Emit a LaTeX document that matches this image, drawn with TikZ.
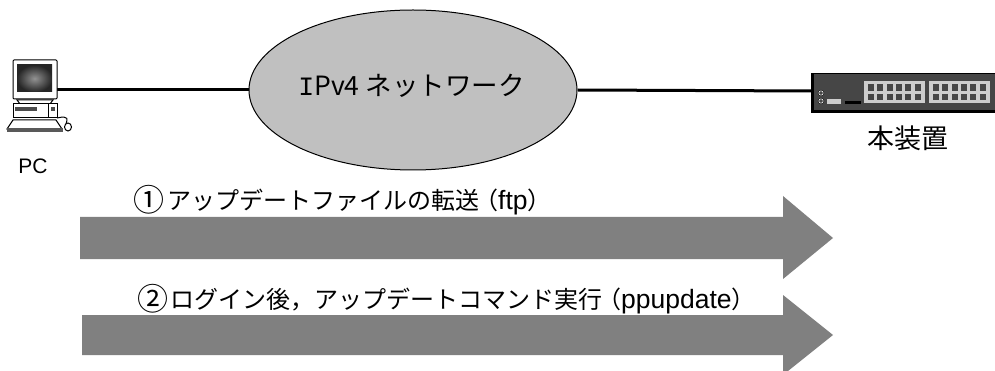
\documentclass[tikz,border=0pt]{standalone}
\usepackage{fontspec}
\setmainfont{Liberation Sans}
\newfontfamily\cjk{Noto Sans CJK JP}
\newfontfamily\mono{Liberation Mono}
\usetikzlibrary{shapes.geometric}
\definecolor{cloudgray}{RGB}{192,192,192}
\definecolor{arrowgray}{RGB}{128,128,128}
\definecolor{devdark}{RGB}{70,70,70}
\definecolor{portlight}{RGB}{205,205,205}
\definecolor{celldark}{RGB}{70,70,70}
\newcommand{\stepmark}[2]{\makebox[#1][l]{\raisebox{-2pt}{\cjk\fontsize{31}{34}\selectfont\kern-1.5pt #2}}}
\newcommand{\openp}{\makebox[19pt][r]{\cjk （}}
\newcommand{\latinpart}[1]{{\rmfamily\fontsize{26.5}{28}\selectfont #1}}
\begin{document}
\begin{tikzpicture}[x=1pt,y=-1pt,
  label text/.style={inner sep=0pt,font=\cjk\fontsize{24}{28}\selectfont,anchor=west},
  link/.style={line width=3pt,black},
  bigarrow/.style={fill=arrowgray,draw=none},
  partline/.style={draw=black,line width=1pt}]
\useasboundingbox (0,0) rectangle (995,371);
% links
\coordinate (pcport) at (57,90);
\coordinate (devport) at (812,91);
\node[ellipse,draw=black,line width=1pt,fill=cloudgray,minimum width=328pt,minimum height=160pt,inner sep=0pt] (net) at (413,90) {};
\draw[link] (pcport) -- (net.west);
\draw[link] (net.east) -- (devport);
\node[inner sep=0pt,font=\cjk\fontsize{26.5}{30}\selectfont] (netlabel) at (411.5,86) {{\mono I}Pv4 ネットワーク};
% PC
\draw[partline,fill=white,rounded corners=1pt] (13,60) rectangle (57,99);
\shade[inner color=gray!85,outer color=black!85] (17,65) rectangle (52,92);
\draw[partline,fill=white] (17,100) -- (53,100) -- (50,104) -- (20,104) -- cycle;
\draw[partline,fill=white] (13,104) rectangle (57,118);
\fill[black!70] (15,107) rectangle (37,111);
\fill[black!70] (51,107) rectangle (55,111);
\draw[partline] (48,104) -- (48,118);
\draw[partline,fill=white] (13,120) -- (56,120) -- (62,129) -- (7,129) -- cycle;
\fill[black!65] (7,128) rectangle (63,132);
\draw[partline] (57,118) .. controls (70,115) and (67,120) .. (66,124);
\draw[partline,fill=white] (68,127) ellipse (3.5pt and 4pt);
\node[inner sep=0pt,font=\fontsize{21}{24}\selectfont] (pclabel) at (33,166) {PC};
% device
\fill[devdark] (812,73) rectangle (995,112);
\fill[black] (812,73) rectangle (995,74.5);
\fill[black] (812,110) rectangle (995,113);
\fill[black] (811,73) rectangle (813.5,113);
\fill[portlight] (864,81) rectangle (925,103.5);
\fill[portlight] (929,81) rectangle (990,103.5);
\foreach \x in {0,1,2,3,4,5}{
  \fill[celldark] (868+\x*9.3,84.5) rectangle +(6,6.5);
  \fill[celldark] (868+\x*9.3,94) rectangle +(6,6.5);
  \fill[celldark] (933+\x*9.3,84.5) rectangle +(6,6.5);
  \fill[celldark] (933+\x*9.3,94) rectangle +(6,6.5);
}
\draw[black,fill=devdark,line width=1pt] (821,93) circle (2.5pt) (821,101) circle (2.5pt);
\draw[white,line width=0.6pt] (821,93) circle (2.2pt) (821,101) circle (2.2pt);
\fill[portlight] (827,99) rectangle (841,104);
\fill[black] (845,101) rectangle (861,104);
\node[inner sep=0pt,font=\cjk\fontsize{27}{30}\selectfont] (devlabel) at (907.5,138) {本装置};
% arrows
\node[label text] (step1) at (135,200) {\stepmark{32pt}{①}アップデートファイルの転送\openp\latinpart{ftp}）};
\node[label text] (step2) at (139,299.5) {\stepmark{31pt}{②}ログイン後，アップデートコマンド実行\openp\latinpart{ppupdate}）};
\fill[bigarrow] (80,217) -- (783,217) -- (783,196) -- (833,238) -- (783,279) -- (783,259) -- (80,259) -- cycle;
\fill[bigarrow] (82,315) -- (783,315) -- (783,295) -- (833,335) -- (783,375) -- (783,355) -- (82,355) -- cycle;
\end{tikzpicture}
\end{document}
